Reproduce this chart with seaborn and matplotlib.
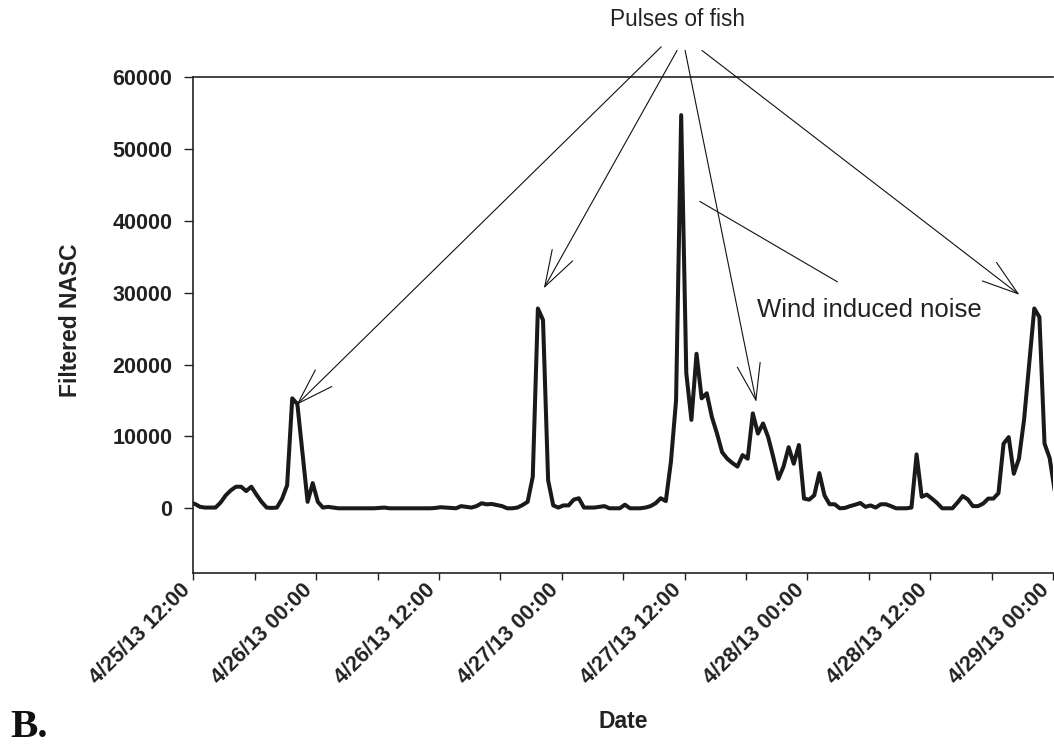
import numpy as np
import pandas as pd
import matplotlib
matplotlib.use("Agg")
import matplotlib.pyplot as plt
import matplotlib.dates as mdates
import matplotlib.transforms as mtransforms
import seaborn as sns

# ---------------- data (30-min filtered NASC samples) ----------------
start_time = "2013-04-25 11:40"
step = "30min"
nasc = [
    800, 600, 200, 100, 100, 100, 800, 1800, 2500, 3000,
    3000, 2400, 3000, 1900, 900, 100, 50, 100, 1300, 3200,
    15300, 14500, 7700, 900, 3500, 900, 100, 200, 100, 0,
    0, 0, 0, 0, 0, 0, 0, 50, 100, 0,
    0, 0, 0, 0, 0, 0, 0, 0, 50, 150,
    100, 50, 0, 300, 200, 100, 300, 700, 550, 600,
    450, 300, 0, 0, 100, 450, 900, 4400, 27800, 26200,
    3900, 400, 100, 400, 400, 1200, 1400, 100, 100, 100,
    200, 300, 0, 0, 0, 500, 0, 0, 0, 100,
    300, 700, 1400, 1000, 6500, 15000, 54700, 18800, 12300, 21500,
    15300, 16000, 12700, 10400, 7800, 6900, 6300, 5800, 7400, 6900,
    13200, 10400, 11800, 9900, 7100, 4100, 5800, 8500, 6200, 8800,
    1350, 1200, 1800, 4900, 1800, 560, 560, 0, 50, 300,
    500, 740, 200, 400, 100, 560, 560, 300, 0, 0,
    0, 100, 7500, 1600, 1900, 1350, 740, 0, 0, 0,
    800, 1700, 1250, 300, 300, 650, 1350, 1350, 2100, 9000,
    9900, 4800, 6900, 12300, 20000, 27800, 26600, 9000, 7000, 2400,
]
yticks = [0, 10000, 20000, 30000, 40000, 50000, 60000]
x_limits = ["2013-04-25 12:00", "2013-04-29 00:00"]
y_limits = [-9000, 60000]

# annotation targets (date, NASC) and arrow origins above the plot
pulse_tips = [("2013-04-25 22:05", 14400), ("2013-04-26 22:15", 30600),
              ("2013-04-27 19:00", 14800), ("2013-04-28 20:43", 29700)]
pulse_starts = [("2013-04-27 09:43", 64200), ("2013-04-27 11:16", 63700),
                ("2013-04-27 12:03", 63700), ("2013-04-27 13:42", 63700)]
wind_line = [("2013-04-27 13:29", 42700), ("2013-04-28 02:56", 31500)]

times = pd.date_range(start_time, periods=len(nasc), freq=step)
df = pd.DataFrame({"Date": times, "Filtered NASC": nasc})

# ---------------- style ----------------
sns.set_theme(style="ticks")
plt.rcParams["font.family"] = ["Liberation Sans", "DejaVu Sans"]

fig = plt.figure(figsize=(10.54, 7.45), dpi=100)
ax = fig.add_axes([0.1834, 0.2309, 0.8157, 0.6657])

sns.lineplot(data=df, x="Date", y="Filtered NASC", ax=ax, color="#1a1a1a",
             linewidth=2.9, sort=False)

ax.set_xlim(pd.Timestamp(x_limits[0]), pd.Timestamp(x_limits[1]))
ax.set_ylim(*y_limits)
ax.set_yticks(yticks)
ax.set_yticklabels([str(v) for v in yticks])

ax.xaxis.set_major_locator(mdates.HourLocator(byhour=[0, 12]))
ax.xaxis.set_minor_locator(mdates.HourLocator(byhour=[6, 18]))
ax.xaxis.set_major_formatter(mdates.DateFormatter("%-m/%d/%y %H:%M"))

for side in ["left", "bottom", "top"]:
    ax.spines[side].set_visible(True)
    ax.spines[side].set_linewidth(1.2)
    ax.spines[side].set_color("#222222")
ax.spines["right"].set_visible(False)

ax.tick_params(axis="y", which="major", direction="out", length=6.5, width=1.0,
               color="#222222", labelsize=15.5, pad=8.5, left=True, right=False)
ax.tick_params(axis="x", which="both", direction="out", length=5, width=1.0,
               color="#222222", bottom=True, top=False)
ax.tick_params(axis="x", which="major", labelsize=15.5, pad=5)

for lab in ax.get_yticklabels():
    lab.set_fontweight("bold")
    lab.set_color("#222222")
offset = mtransforms.ScaledTranslation(-6.5 / 100, 0, fig.dpi_scale_trans)
for lab in ax.get_xticklabels():
    lab.set_fontweight("bold")
    lab.set_color("#222222")
    lab.set_rotation(45)
    lab.set_ha("right")
    lab.set_va("center")
    lab.set_rotation_mode("anchor")
    lab.set_transform(lab.get_transform() + offset)

ax.set_ylabel("Filtered NASC", fontsize=16.5, fontweight="bold", color="#222222")
ax.yaxis.set_label_coords(-0.129, 0.51)
ax.set_xlabel("Date", fontsize=16.5, fontweight="bold", color="#222222")
ax.xaxis.set_label_coords(0.5, -0.276)

# ---------------- annotations ----------------
def dnum(s):
    return mdates.date2num(pd.Timestamp(s))

arrow_kw = dict(arrowstyle="->,head_length=26,head_width=8.4", mutation_scale=1,
                lw=0.8, color="#111111", shrinkA=0, shrinkB=0)
for (ts, tv), (ss, sv) in zip(pulse_tips, pulse_starts):
    ax.annotate("", xy=(dnum(ts), tv), xytext=(dnum(ss), sv),
                arrowprops=arrow_kw, annotation_clip=False)

ax.annotate("", xy=(dnum(wind_line[0][0]), wind_line[0][1]),
            xytext=(dnum(wind_line[1][0]), wind_line[1][1]),
            arrowprops=dict(arrowstyle="-", lw=0.8, color="#111111",
                            shrinkA=0, shrinkB=0), annotation_clip=False)

fig.text(677 / 1054, 1 - 20 / 745, "Pulses of fish", ha="center", va="center",
         fontsize=16.3, color="#222222")
fig.text(757 / 1054, 1 - 310 / 745, "Wind induced noise", ha="left", va="center",
         fontsize=18.5, color="#222222")
fig.text(10 / 1054, 1 - 737 / 745, "B.", ha="left", va="baseline",
         fontsize=29.5, fontweight="bold", family=["Liberation Serif", "DejaVu Serif"],
         color="#111111")

fig.savefig("out.png", dpi=100)
